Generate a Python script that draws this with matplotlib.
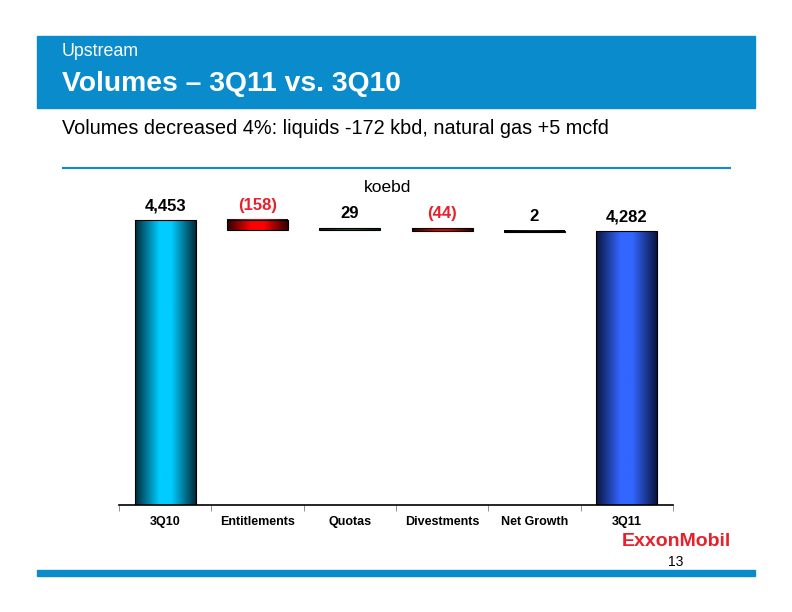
import numpy as np
import matplotlib.pyplot as plt
from matplotlib.colors import LinearSegmentedColormap
from matplotlib.patches import Rectangle

plt.rcParams['font.family'] = ['Liberation Sans', 'DejaVu Sans']

# dati del grafico (koebd)
categorie = ['3Q10', 'Entitlements', 'Quotas', 'Divestments', 'Net Growth', '3Q11']
variazioni = [4453, -158, 29, -44, 2, 4282]
etichette = ['4,453', '(158)', '29', '(44)', '2', '4,282']

# colori: (scuro bordo, chiaro centro)
colori = [('#002a38', '#00ccff'), ('#300000', '#ff0000'), ('#0a1a0a', '#205020'),
          ('#300000', '#e00000'), ('#000000', '#202020'), ('#0a1440', '#3366ff')]
col_neg = '#e8202a'

W, H = 792, 612
fig = plt.figure(figsize=(W / 100, H / 100), dpi=100)

def px(x, y):
    return x / W, 1 - y / H

# intestazione
fig.patches.append(Rectangle(px(37, 108), 718 / W, 72 / H, transform=fig.transFigure,
                             color='#0a8bcc', zorder=0))
fig.text(*px(62, 51), 'Upstream', color='white', fontsize=12.8, va='center')
fig.text(*px(62, 84), 'Volumes \u2013 3Q11 vs. 3Q10', color='white', fontsize=20.3,
         fontweight='bold', va='center')
fig.text(*px(62, 129), 'Volumes decreased 4%: liquids -172 kbd, natural gas +5 mcfd',
         color='black', fontsize=14.3, va='center')
fig.lines.append(plt.Line2D([63 / W, 730 / W], [1 - 168 / H] * 2, transform=fig.transFigure,
                            color='#0a8bcc', lw=1.5))
fig.patches.append(Rectangle(px(37, 576), 718 / W, 6 / H, transform=fig.transFigure,
                             color='#0a8bcc', zorder=0))
fig.text(*px(676, 541), 'ExxonMobil', color=col_neg, fontsize=14, fontweight='bold',
         ha='center', va='center')
fig.text(*px(676, 562), '13', color='black', fontsize=10, ha='center', va='center')

# grafico a cascata
ax = fig.add_axes([119 / W, 1 - 505 / H, 554 / W, 307 / H])
ymax = 4800
larg = 0.66
livello = 0
for i, (cat, v) in enumerate(zip(categorie, variazioni)):
    if i == 0 or i == len(categorie) - 1:
        basso, alto = 0, v
        livello = v
    else:
        nuovo = livello + v
        basso, alto = min(livello, nuovo), max(livello, nuovo)
        livello = nuovo
    scuro, chiaro = colori[i]
    cmap = LinearSegmentedColormap.from_list('g', [(0, scuro), (0.4, chiaro), (0.6, chiaro), (1, scuro)])
    grad = np.linspace(0, 1, 256).reshape(1, -1)
    h = max(alto - basso, 18)
    ax.imshow(grad, cmap=cmap, aspect='auto', extent=[i - larg / 2, i + larg / 2, alto - h, alto],
              zorder=2)
    ax.add_patch(Rectangle((i - larg / 2, alto - h), larg, h, fill=False, ec='black', lw=0.8, zorder=3))
    colore = col_neg if v < 0 else 'black'
    ax.text(i, alto + 110, etichette[i], ha='center', va='bottom', fontsize=12,
            fontweight='bold', color=colore)

ax.set_xlim(-0.5, len(categorie) - 0.5)
ax.set_ylim(0, ymax)
for s in ['top', 'left', 'right']:
    ax.spines[s].set_visible(False)
ax.spines['bottom'].set_linewidth(1.2)
ax.set_yticks([])
ax.set_xticks(np.arange(len(categorie)))
ax.set_xticklabels(categorie, fontsize=9, fontweight='bold')
ax.tick_params(axis='x', which='major', length=0, pad=8)
ax.set_xticks(np.arange(len(categorie) + 1) - 0.5, minor=True)
ax.tick_params(axis='x', which='minor', length=4, color='#808080')
ax.text(0.485, 1.035, 'koebd', transform=ax.transAxes, ha='center', va='center', fontsize=12.5)

fig.savefig('out.png', dpi=100)
